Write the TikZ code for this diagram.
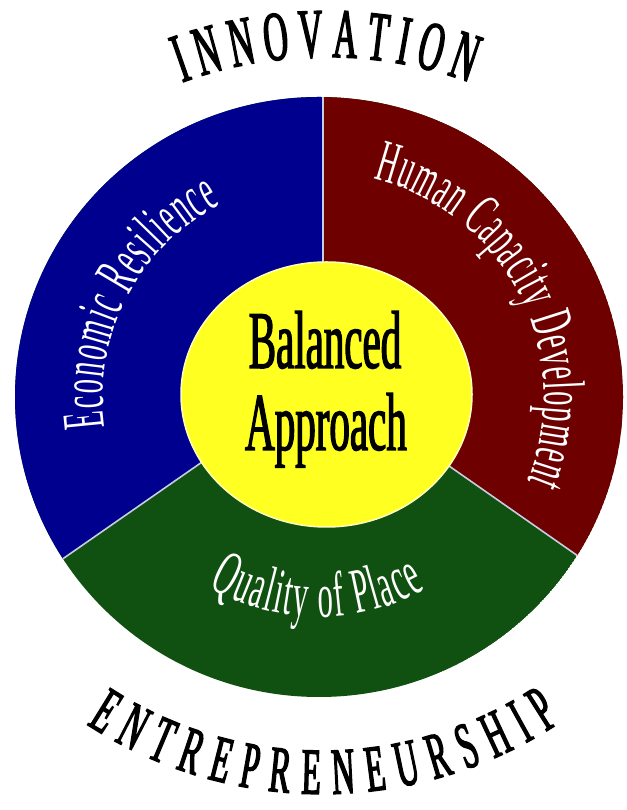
\documentclass[tikz,border=0pt]{standalone}
\usepackage{fontspec}
\usetikzlibrary{decorations.text}
\newfontfamily\cenfam[FakeStretch=0.5,FakeBold=1.5]{Liberation Serif}
\newfontfamily\secfam[FakeStretch=0.48]{Liberation Serif}
\newfontfamily\banfam[FakeStretch=0.48,FakeBold=2]{Liberation Serif}
\definecolor{sblue}{RGB}{0,0,142}
\definecolor{sred}{RGB}{110,0,0}
\definecolor{sgreen}{RGB}{16,80,16}
\definecolor{syellow}{RGB}{255,255,34}
\definecolor{sline}{RGB}{200,205,225}
\begin{document}
\begin{tikzpicture}[x=1pt,y=1pt,
  divider/.style={draw=sline, line width=1.6pt},
  seclabel/.style 2 args={decorate, decoration={text along path, text align=fit to path, text color=white, text={|\secfam\fontsize{#1}{#1}\selectfont|#2}}},
  banlabel/.style 2 args={decorate, decoration={text along path, text align=fit to path, text color=black, text={|\banfam\fontsize{#1}{#1}\selectfont|#2}}},
  centertext/.style={anchor=base, inner sep=0pt, font=\cenfam\fontsize{82pt}{82pt}\selectfont}
]
\useasboundingbox (0,0) rectangle (626,810);
\coordinate (C) at (319,413);
\coordinate (H) at (323,432);
\coordinate (Lfar) at (-5.5,203.7);
\coordinate (Rfar) at (651,203);
\coordinate (Top) at (323,830);
\begin{scope}
  \clip (C) ellipse [x radius=304, y radius=300];
  \fill[sgreen] (C) ellipse [x radius=304, y radius=300];
  \fill[sblue] (H) -- (Top) -- (-40,830) -- (-40,180) -- (Lfar) -- cycle;
  \fill[sred] (H) -- (Top) -- (670,830) -- (670,180) -- (Rfar) -- cycle;
  \draw[divider] (H) -- (Top);
  \draw[divider] (H) -- (Lfar);
  \draw[divider] (H) -- (Rfar);
\end{scope}
\filldraw[fill=syellow, draw=white!70!syellow, line width=1.5pt] (326.5,415.5) ellipse [x radius=145.5, y radius=132.5];
\node[centertext] (bal) at (325,442) {Balanced};
\node[centertext] (app) at (326,360) {Approach};
\path[seclabel={60pt}{Economic Resilience}] (C) ++(188:216) arc[start angle=188, end angle=117, radius=216];
\path[seclabel={60pt}{Human Capacity Development}] (C) ++(76:225) arc[start angle=76, end angle=-22, radius=225];
\path[seclabel={64pt}{Quality of Place}] (C) ++(240:220) arc[start angle=240, end angle=299, radius=220];
\path[banlabel={70pt}{INNOVATION}] (326,333) ++(110:420) arc[start angle=110, end angle=70, radius=420];
\path[banlabel={66pt}{ENTREPRENEURSHIP}] (322,448) ++(237:432) arc[start angle=237, end angle=303.5, radius=432];
\end{tikzpicture}
\end{document}
